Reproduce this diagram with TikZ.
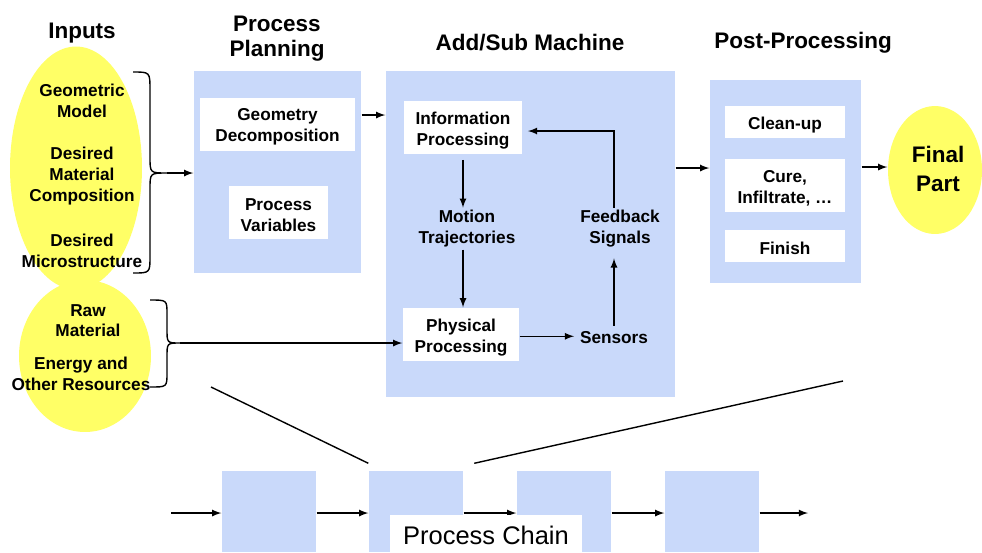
\documentclass[tikz,border=0pt]{standalone}
\usepackage{fontspec}
\setmainfont{Liberation Sans}
\usetikzlibrary{arrows,shapes.geometric,fit,positioning}
\definecolor{panelblue}{RGB}{201,217,250}
\definecolor{blobyellow}{RGB}{255,255,102}
\newcommand{\lblfont}{\fontsize{9.8}{11.9}\selectfont\bfseries}
\newcommand{\ttlfont}{\fontsize{12.8}{14.7}\selectfont\bfseries}
\tikzset{
  panel/.style={fill=panelblue,inner sep=0pt},
  card/.style={fill=white,inner sep=0pt},
  lbl/.style={align=center,font=\lblfont,inner sep=1pt,yshift=-1.5pt},
  ttl/.style={align=center,font=\ttlfont,yshift=-1.5pt},
  blob/.style={ellipse,fill=blobyellow,inner sep=0pt}
}
\begin{document}
\begin{tikzpicture}[>=latex,x=0.02cm,y=-0.02cm,thick]
    \useasboundingbox (0,0) rectangle (982,552);
    % inputs
    \node[blob,minimum width=2.64cm,minimum height=4.86cm] (inA) at (76,168) {};
    \node[blob,minimum width=2.64cm,minimum height=3.04cm] (inB) at (85,356) {};
    \node[ttl] (tIn) at (82,30) {Inputs};
    \node[lbl] (geom) at (82,98) {Geometric\\Model};
    \node[lbl] (comp) at (82,173) {Desired\\Material\\Composition};
    \node[lbl] (micro) at (82,248) {Desired\\Microstructure};
    \node[lbl] (raw) at (88,318) {Raw\\Material};
    \node[lbl] (energy) at (81,371) {Energy and\\Other Resources};
    \draw (133,72) .. controls (150,72) .. (150,90) -- (150,157) .. controls (150,173) .. (167,173) coordinate (tipA)
      .. controls (150,173) .. (150,189) -- (150,256) .. controls (150,273) .. (133,273);
    \draw (150,300) .. controls (167,300) .. (167,314) -- (167,329) .. controls (167,343) .. (180,343) coordinate (tipB)
      .. controls (167,343) .. (167,357) -- (167,373) .. controls (167,387) .. (150,387);
    % process planning
    \node[ttl] (tPlan) at (277,36) {Process\\Planning};
    \node[panel,fit={(194,71) (361,273)}] (plan) {};
    \node[card,fit={(200,98) (355,151)}] (geo) {};
    \node[lbl] (geoT) at (geo) {Geometry\\Decomposition};
    \node[card,fit={(229,186) (328,239)}] (pvar) {};
    \node[lbl] (pvarT) at (pvar) {Process\\Variables};
    % add/sub machine
    \node[ttl] (tAdd) at (530,40) {Add/Sub Machine};
    \node[panel,fit={(386,71) (675,397)}] (add) {};
    \node[card,fit={(404,101) (522,154)}] (info) {};
    \node[lbl] (infoT) at (info) {Information\\Processing};
    \node[card,fit={(403,308) (519,361)}] (phys) {};
    \node[lbl] (physT) at (phys) {Physical\\Processing};
    \node[lbl] (mot) at (467,226) {Motion\\Trajectories};
    \node[lbl] (fb) at (620,226) {Feedback\\Signals};
    \node[lbl,inner sep=3pt] (sens) at (614,335) {Sensors};
    % post-processing
    \node[ttl] (tPost) at (803,40) {Post-Processing};
    \node[panel,fit={(710,80) (861,283)}] (post) {};
    \node[card,fit={(725,106) (845,138)}] (clean) {};
    \node[lbl] (cleanT) at (clean) {Clean-up};
    \node[card,fit={(725,159) (845,212)}] (cure) {};
    \node[lbl] (cureT) at (cure) {Cure,\\Infiltrate, …};
    \node[card,fit={(725,230) (845,262)}] (finish) {};
    \node[lbl] (finishT) at (finish) {Finish};
    \node[blob,minimum width=1.88cm,minimum height=2.56cm] (fin) at (935,170) {};
    \node[ttl,font=\fontsize{12.8}{16.4}\selectfont\bfseries] (finT) at (938,166) {Final\\Part};
    % flow
    \draw[->] (tipA) -- (plan.west |- tipA);
    \draw[->] (tipB) -- (phys.west |- tipB);
    \draw[->] (plan.east |- 0,115) -- (add.west |- 0,115);
    \draw[->] ([yshift=-3pt]info.south) -- (info.south |- mot.north);
    \draw[->] (info.south |- mot.south) -- (info.south |- phys.north);
    \draw[->] ([yshift=-1pt]phys.east) -- ([yshift=-1pt]sens.west |- phys.east);
    \draw[->] (sens.north) -- ([yshift=-5pt]sens.north |- fb.south);
    \draw[->] (sens.north |- fb.north) |- ([xshift=3pt,yshift=-2pt]info.east);
    \draw[->] (add.east |- 0,168) -- (post.west |- 0,168);
    \draw[->] (post.east |- 0,167) -- (fin.west |- 0,167);
    % process chain
    \foreach \n/\x in {b1/222,b2/369,b3/517,b4/665}{
      \node[panel,fit={(\x,471) (\x+94,552)}] (\n) {};
    }
    \coordinate (cin) at (171,513);
    \coordinate (cout) at (808,513);
    \draw[->] (cin) -- (b1.west |- cin);
    \foreach \a/\b in {b1/b2,b2/b3,b3/b4}{\draw[->] (\a.east |- cin) -- (\b.west |- cin);}
    \draw[->] (b4.east |- cin) -- (cout);
    \node[fill=white,inner sep=0pt,fit={(390,515) (582,552)}] (chain) {};
    \node[font=\fontsize{14.5}{16}\selectfont] (chainT) at ([yshift=-1pt]chain) {Process Chain};
    \coordinate (zl) at (211,387);
    \coordinate (zr) at (843,381);
    \draw (zl) -- ([yshift=4pt]b2.north west);
    \draw (zr) -- ([xshift=6pt,yshift=4pt]b2.north east);
\end{tikzpicture}
\end{document}
